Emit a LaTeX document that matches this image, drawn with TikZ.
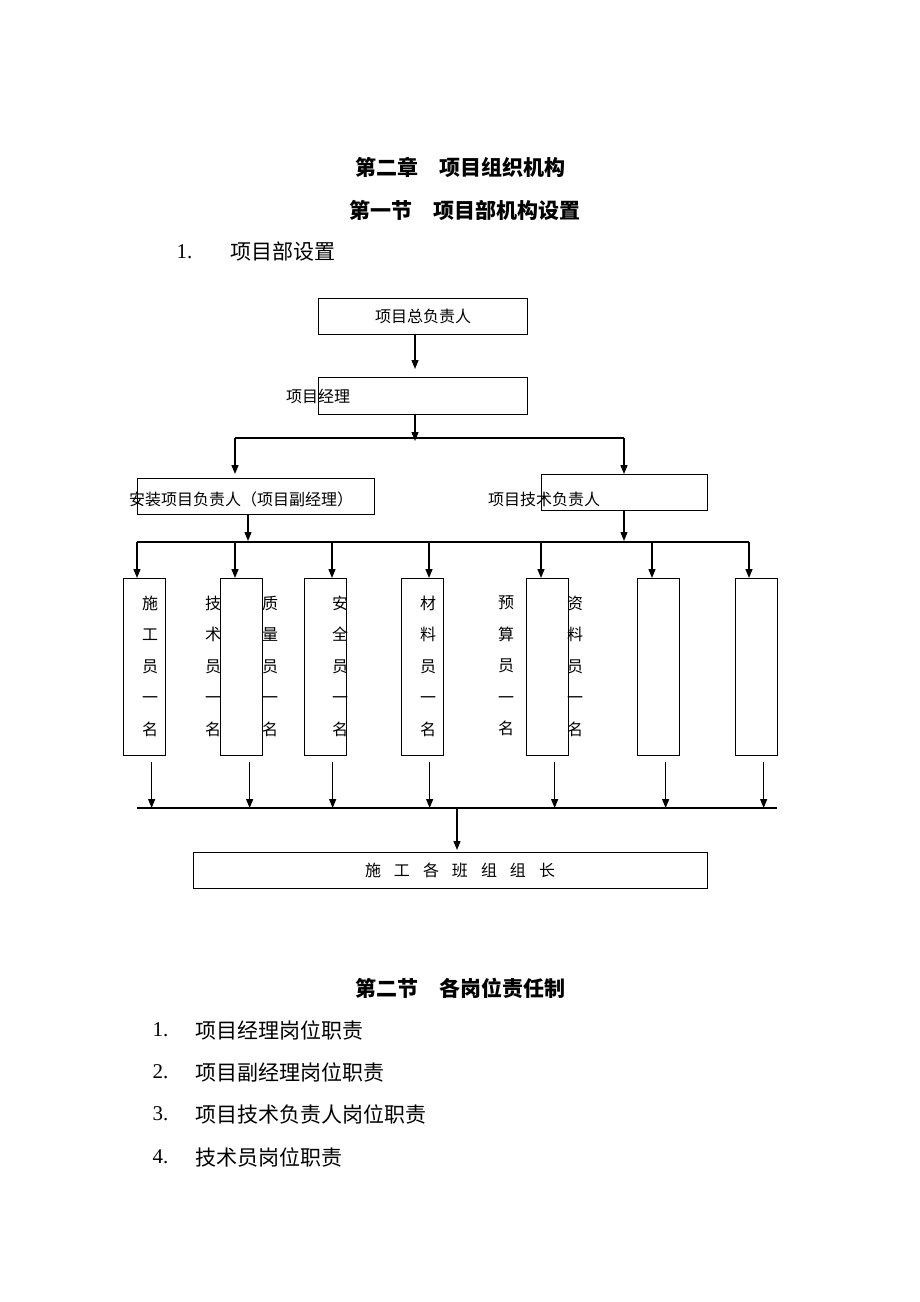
\documentclass[tikz,border=0pt]{standalone}
\usepackage{fontspec}
\setmainfont{Liberation Serif}
\newfontfamily\cjk{Noto Sans CJK SC}
\usetikzlibrary{arrows.meta,positioning}

\begin{document}
\begin{tikzpicture}[x=1pt,y=-1pt,line width=1.3pt,>={Triangle[length=9pt,width=7pt]},
    box/.style={draw,rectangle,anchor=north west,inner sep=0pt},
    staff/.style={box,minimum width=42pt,minimum height=177pt},
    txt/.style={font=\cjk\fontsize{16}{16}\selectfont,inner sep=0pt},
    col/.style={font=\cjk\fontsize{16}{31.5}\selectfont,align=center,inner sep=0pt},
    big/.style={font=\cjk\fontsize{21}{21}\selectfont,inner sep=0pt,anchor=west},
    num/.style={font=\fontsize{21}{21}\selectfont,inner sep=0pt,anchor=west},
    head/.style={font=\cjk\bfseries\fontsize{21}{21}\selectfont,inner sep=0pt}]
            \useasboundingbox (0,0) rectangle (920,1302);

            % headings
            \node[head] (ch2) at (460,167) {第二章\hspace{1em}项目组织机构};
            \node[head] (sec1) at (465,210) {第一节\hspace{1em}项目部机构设置};
            \node[num] (n0) at (176,252) {1.};
            \node[big] (sub) at (230,252) {项目部设置};

            % chart
            \node[box,txt,minimum width=209pt,minimum height=36pt] (zfz) at (318,298) {项目总负责人};
            \node[box,minimum width=209pt,minimum height=37pt] (jl) at (318,377) {};
            \node[txt] (jl_t) at (jl.west) {项目经理};
            \node[box,minimum width=237pt,minimum height=36pt] (fjl) at (137,478) {};
            \node[txt] (fjl_t) at (241,499) {安装项目负责人（项目副经理）};
            \node[box,minimum width=166pt,minimum height=36pt] (jsfz) at (541,474) {};
            \node[txt] (jsfz_t) at (544,499) {项目技术负责人};

            \node[col] (c_1) at (150,666) {施\\工\\员\\一\\名};
            \node[col] (c_2) at (213,666) {技\\术\\员\\一\\名};
            \node[col] (c_3) at (270,666) {质\\量\\员\\一\\名};
            \node[col] (c_4) at (340,666) {安\\全\\员\\一\\名};
            \node[col] (c_5) at (428,666) {材\\料\\员\\一\\名};
            \node[col] (c_6) at (506,666) {预\\算\\员\\一\\名};
            \node[col] (c_7) at (575,666) {资\\料\\员\\一\\名};

            \node[staff] (s_1) at (123,578) {};
            \node[staff] (s_2) at (220,578) {};
            \node[staff] (s_3) at (304,578) {};
            \node[staff] (s_4) at (401,578) {};
            \node[staff] (s_5) at (526,578) {};
            \node[staff] (s_6) at (637,578) {};
            \node[staff] (s_7) at (735,578) {};

            \node[box,minimum width=514pt,minimum height=36pt] (bz) at (193,852) {};
            \node[txt] (bz_t) at (460,870) {施\hspace{13pt}工\hspace{13pt}各\hspace{13pt}班\hspace{13pt}组\hspace{13pt}组\hspace{13pt}长};

            % connectors
            \coordinate (a_1) at (415,369);
            \coordinate (a_2) at (415,441);
            \coordinate (a_3) at (248,541);
            \coordinate (a_4) at (624,541);
            \coordinate (bus1_l) at (235,438);
            \coordinate (bus1_r) at (624,438);
            \coordinate (bus2_l) at (137,542);
            \coordinate (bus2_r) at (749,542);
            \coordinate (bus3_l) at (137,808);
            \coordinate (bus3_r) at (777,808);
            \coordinate (bus3_m) at (457,808);

            \draw[->] (zfz.south -| a_1) -- (a_1);
            \draw[->] (jl.south -| a_2) -- (a_2);
            \draw (bus1_l) -- (bus1_r);
            \draw[->,shorten >=4pt] (bus1_l) -- (bus1_l |- fjl.north);
            \draw[->] (bus1_r) -- (bus1_r |- jsfz.north);
            \draw[->] (fjl.south -| a_3) -- (a_3);
            \draw[->] (jsfz.south -| a_4) -- (a_4);
            \draw (bus2_l) -- (bus2_r);
            \draw[->] ([xshift=14pt]s_1.north west |- bus2_l) -- ([xshift=14pt]s_1.north west);
            \draw[->] ([xshift=15pt]s_2.north west |- bus2_l) -- ([xshift=15pt]s_2.north west);
            \draw[->] ([xshift=28pt]s_3.north west |- bus2_l) -- ([xshift=28pt]s_3.north west);
            \draw[->] ([xshift=28pt]s_4.north west |- bus2_l) -- ([xshift=28pt]s_4.north west);
            \draw[->] ([xshift=15pt]s_5.north west |- bus2_l) -- ([xshift=15pt]s_5.north west);
            \draw[->] ([xshift=15pt]s_6.north west |- bus2_l) -- ([xshift=15pt]s_6.north west);
            \draw[->] ([xshift=14pt]s_7.north west |- bus2_l) -- ([xshift=14pt]s_7.north west);

            \draw[->] ([xshift=7pt,yshift=-6pt]s_1.south) -- ([xshift=7pt]s_1.south |- bus3_l);
            \draw[->] ([xshift=8pt,yshift=-6pt]s_2.south) -- ([xshift=8pt]s_2.south |- bus3_l);
            \draw[->] ([xshift=7pt,yshift=-6pt]s_3.south) -- ([xshift=7pt]s_3.south |- bus3_l);
            \draw[->] ([xshift=7pt,yshift=-6pt]s_4.south) -- ([xshift=7pt]s_4.south |- bus3_l);
            \draw[->] ([xshift=7pt,yshift=-6pt]s_5.south) -- ([xshift=7pt]s_5.south |- bus3_l);
            \draw[->] ([xshift=7pt,yshift=-6pt]s_6.south) -- ([xshift=7pt]s_6.south |- bus3_l);
            \draw[->] ([xshift=7pt,yshift=-6pt]s_7.south) -- ([xshift=7pt]s_7.south |- bus3_l);
            \draw (bus3_l) -- (bus3_r);
            \draw[->,shorten >=2pt] (bus3_m) -- (bus3_m |- bz.north);

            % duties
            \node[head] (sec2) at (460,988) {第二节\hspace{1em}各岗位责任制};
            \node[num] (n_1) at (152,1030) {1.};
            \node[big] (t_1) at (195,1030) {项目经理岗位职责};
            \node[num] (n_2) at (152,1072) {2.};
            \node[big] (t_2) at (195,1072) {项目副经理岗位职责};
            \node[num] (n_3) at (152,1114) {3.};
            \node[big] (t_3) at (195,1114) {项目技术负责人岗位职责};
            \node[num] (n_4) at (152,1157) {4.};
            \node[big] (t_4) at (195,1157) {技术员岗位职责};
        \end{tikzpicture}
\end{document}
